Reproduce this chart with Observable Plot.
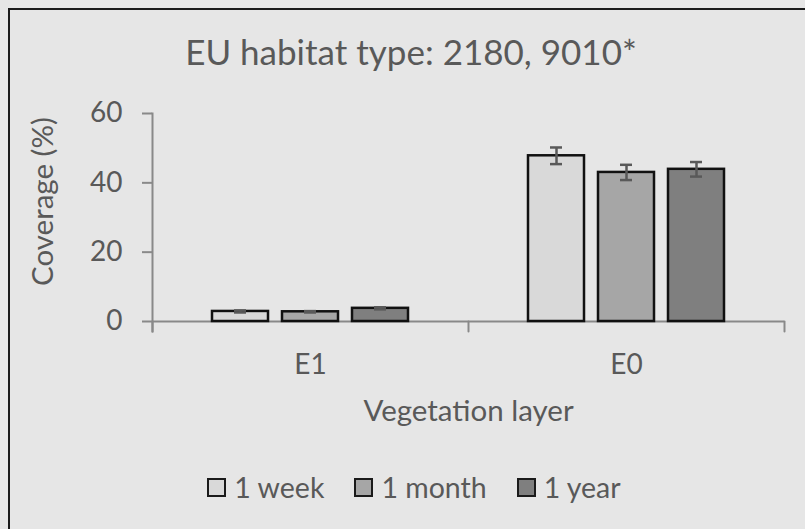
<!DOCTYPE html>
<html><head><meta charset="utf-8">
<script src="https://cdn.jsdelivr.net/npm/d3@7"></script>
<script src="https://cdn.jsdelivr.net/npm/@observablehq/plot@0.6"></script>
<style>
html,body{margin:0;padding:0;background:#e6e6e6;}
#wrap{position:relative;width:805px;height:529px;overflow:hidden;font-family:Lato,sans-serif;color:#595959;}
#border{position:absolute;left:8px;top:8px;width:1000px;height:1000px;border-left:2px solid #1a1a1a;border-top:2px solid #1a1a1a;box-sizing:border-box;}
#title{position:relative;height:90px;}
#title span{position:absolute;left:0;width:822px;text-align:center;font-size:35px;line-height:35px;top:34px;white-space:nowrap;}
#chart{position:relative;height:350px;}
#chart svg{display:block;}
#legend{position:relative;height:89px;}
#legend .row{position:absolute;left:0;width:828px;top:33px;display:flex;justify-content:center;align-items:center;font-size:28.5px;line-height:28px;}
#legend .item{display:flex;align-items:center;margin:0 15px;}
#legend .sw{width:19px;height:19px;border:2px solid #1a1a1a;box-sizing:border-box;margin-right:8px;}
</style></head>
<body>
<div id="wrap">
  <div id="border"></div>
  <div id="title"><span id="titletext"></span></div>
  <div id="chart"></div>
  <div id="legend"><div class="row" id="legendrow"></div></div>
</div>
<script>
// ---- data ----
const titleText = "EU habitat type: 2180, 9010*";
const layers = ["E1", "E0"];
const periods = ["1 week", "1 month", "1 year"];
const weekValues = [2.9, 47.8];
const monthValues = [2.8, 43.0];
const yearValues = [3.8, 43.9];
const weekErrors = [0.3, 2.4];
const monthErrors = [0.2, 2.2];
const yearErrors = [0.3, 2.1];
const yTicks = [0, 20, 40, 60];
const yLabel = "Coverage (%)";
const xLabel = "Vegetation layer";
const periodColors = ["#d9d9d9", "#a6a6a6", "#7f7f7f"];

// ---- table ----
const seriesValues = [weekValues, monthValues, yearValues];
const seriesErrors = [weekErrors, monthErrors, yearErrors];
const rows = layers.flatMap((layer, i) =>
  periods.map((period, j) => ({layer, period, value: seriesValues[j][i], err: seriesErrors[j][i]})));

const FONT = "Lato, sans-serif";
const tickFont = 28;
const titleFont = 29.5;
const axisGray = "#898989";
const textGray = "#595959";

const lineShape = {draw(context, l) { context.moveTo(0, 0); context.lineTo(0, -l); }};

const chart = Plot.plot({
  width: 805,
  height: 350,
  marginTop: 23,
  marginBottom: 119,
  marginLeft: 152,
  marginRight: 21,
  style: {background: "transparent", fontFamily: FONT, color: textGray, overflow: "visible"},
  fx: {domain: layers, padding: 0, label: null, axis: null},
  x: {domain: periods, paddingInner: 0.2, paddingOuter: 0.857, axis: null},
  y: {domain: [0, 60]},
  color: {domain: periods, range: periodColors},
  marks: [
    Plot.axisY({ticks: yTicks, tickSize: 10, tickPadding: 20, fontSize: tickFont, label: null, stroke: axisGray, strokeWidth: 2, fill: textGray}),
    Plot.axisFx({anchor: "bottom", tickSize: 0, tickPadding: 52 - 0.71 * tickFont, fontSize: tickFont, fill: textGray, label: null}),
    Plot.ruleY([0], {stroke: axisGray, strokeWidth: 2}),
    Plot.frame({anchor: "left", fx: ["E1"], stroke: axisGray, strokeWidth: 2, insetBottom: -10}),
    Plot.vector(layers.map(layer => ({layer})), {fx: "layer", frameAnchor: "bottom-left", length: 10, rotate: 180, anchor: "start", shape: lineShape, stroke: axisGray, strokeWidth: 2}),
    Plot.vector([{layer: layers[layers.length - 1]}], {fx: "layer", frameAnchor: "bottom-right", length: 10, rotate: 180, anchor: "start", shape: lineShape, stroke: axisGray, strokeWidth: 2}),
    Plot.text([{layer: layers[0]}], {fx: "layer", frameAnchor: "left", textAnchor: "middle", text: () => yLabel, rotate: -90, dx: -109, dy: -16, fontSize: titleFont, fill: textGray}),
    Plot.text([{layer: layers[0]}], {fx: "layer", frameAnchor: "bottom-right", textAnchor: "middle", text: () => xLabel, dy: 99, fontSize: titleFont, fill: textGray}),
    Plot.barY(rows, {fx: "layer", x: "period", y: "value", fill: "period", stroke: "#111", strokeWidth: 2.5}),
    Plot.ruleX(rows, {fx: "layer", x: "period", y1: d => d.value - d.err, y2: d => d.value + d.err, stroke: textGray, strokeWidth: 2.5}),
    Plot.tickY(rows, {fx: "layer", x: "period", y: d => d.value - d.err, stroke: textGray, strokeWidth: 2.5, insetLeft: 22, insetRight: 22}),
    Plot.tickY(rows, {fx: "layer", x: "period", y: d => d.value + d.err, stroke: textGray, strokeWidth: 2.5, insetLeft: 22, insetRight: 22})
  ]
});
document.getElementById("chart").appendChild(chart);
document.getElementById("titletext").textContent = titleText;

const legendRow = document.getElementById("legendrow");
periods.forEach((p, j) => {
  const item = document.createElement("div"); item.className = "item";
  const sw = document.createElement("div"); sw.className = "sw"; sw.style.background = periodColors[j];
  const t = document.createElement("span"); t.textContent = p;
  item.appendChild(sw); item.appendChild(t); legendRow.appendChild(item);
});
</script>
</body></html>
